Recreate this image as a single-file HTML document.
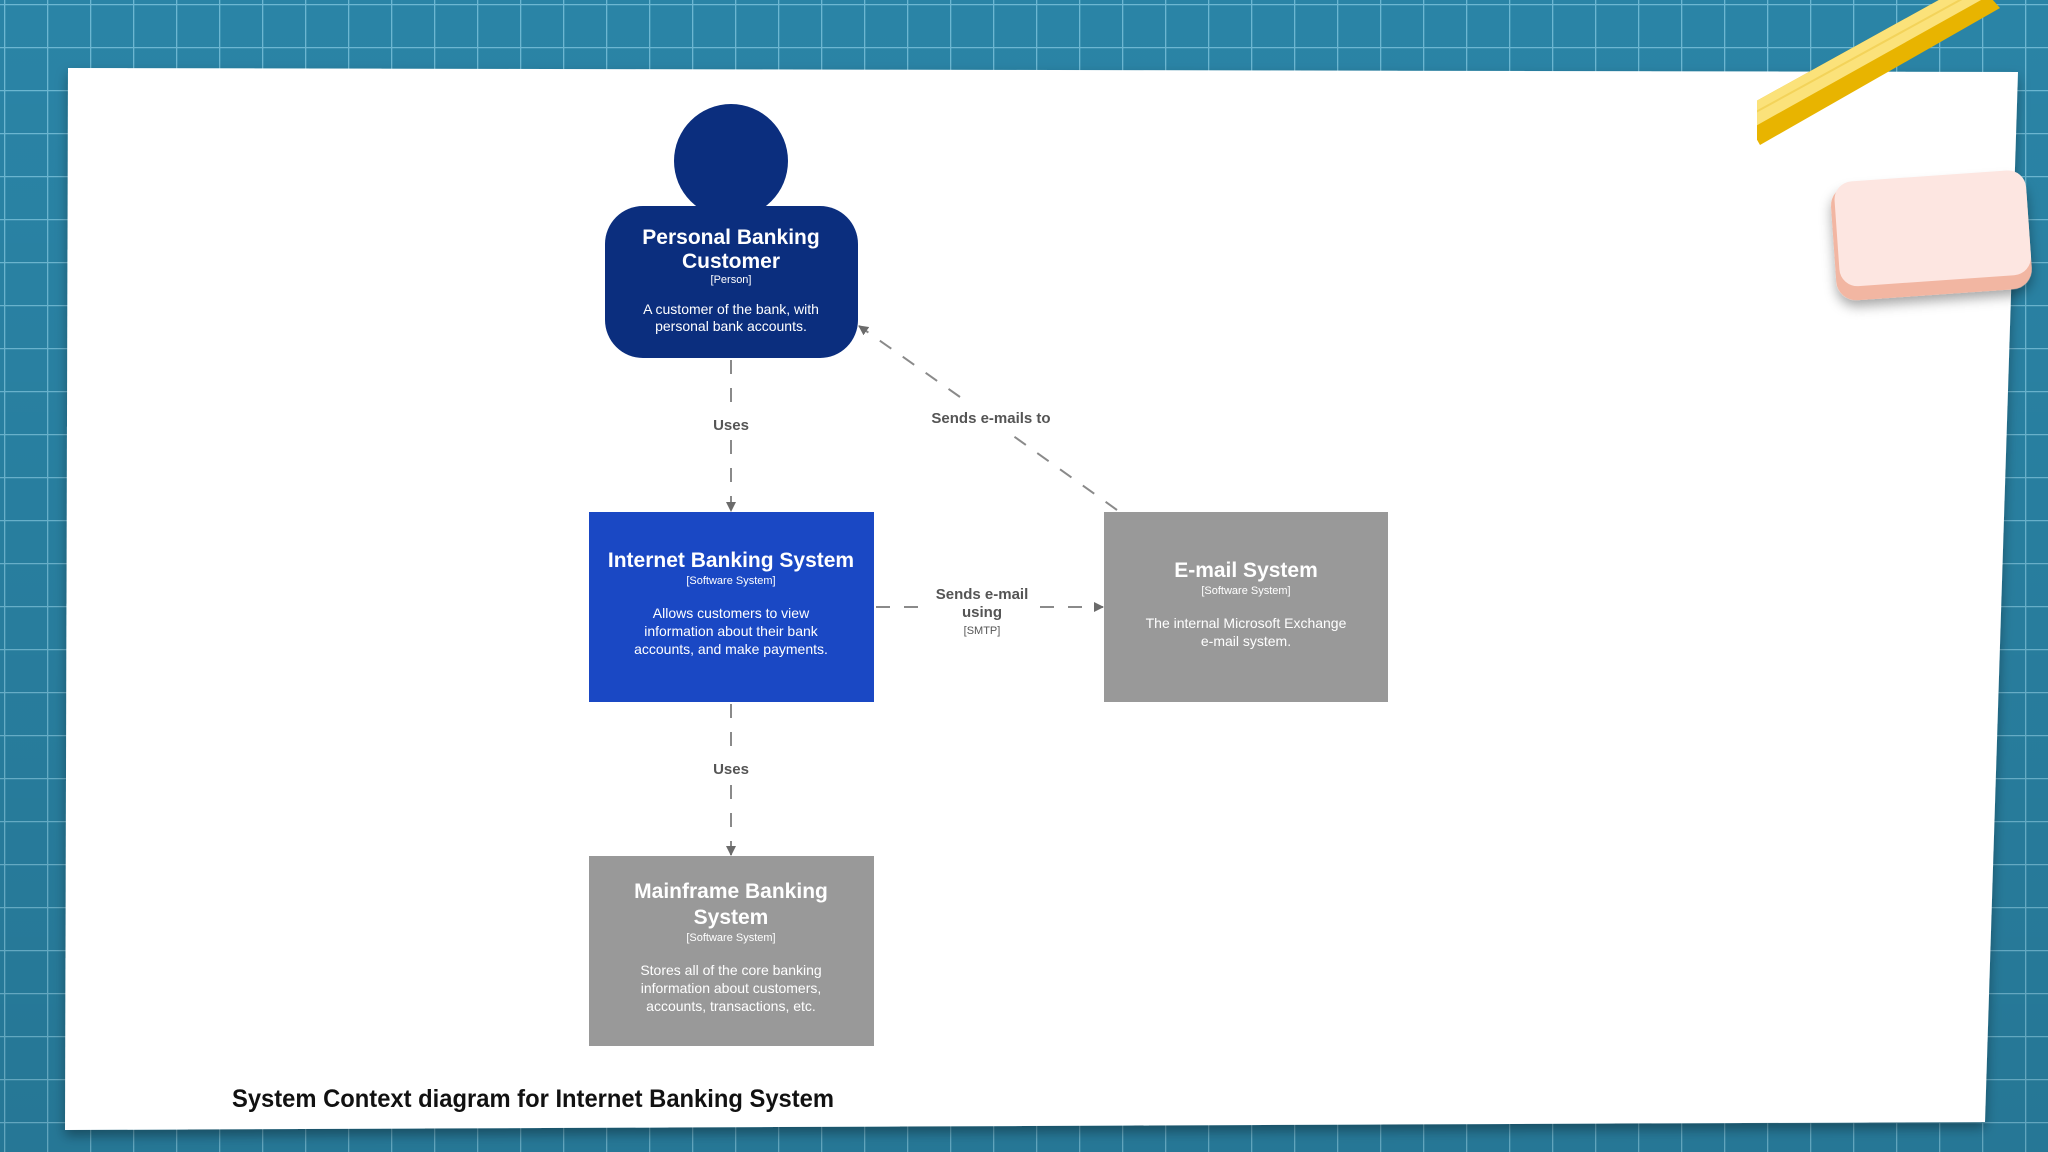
<!DOCTYPE html>
<html><head><meta charset="utf-8"><style>
html,body{margin:0;padding:0;width:2048px;height:1152px;overflow:hidden;background:#2a86a8}
svg{display:block}
text{font-family:"Liberation Sans",sans-serif}
</style></head><body>
<svg width="2048" height="1152" viewBox="0 0 2048 1152" xmlns="http://www.w3.org/2000/svg">
<defs>
<pattern id="g" width="43" height="43" patternUnits="userSpaceOnUse" x="4" y="4">
<rect width="43" height="43" fill="#2a84a6"/>
<path d="M0 0.5H43M0.5 0V43" stroke="#8fd3ea" stroke-width="1.6" opacity="0.65"/>
</pattern>
<linearGradient id="bg" x1="0" y1="0" x2="0" y2="1"><stop offset="0" stop-color="#000" stop-opacity="0"/><stop offset="1" stop-color="#000" stop-opacity="0.1"/></linearGradient>
<marker id="ah" markerWidth="10" markerHeight="10" refX="9" refY="5" orient="auto" markerUnits="userSpaceOnUse"><path d="M0,0 L10,5 L0,10 Z" fill="#6b6b6b"/></marker>
<filter id="sh" x="-10%" y="-10%" width="120%" height="130%"><feDropShadow dx="0" dy="6" stdDeviation="6" flood-opacity="0.35"/></filter>
</defs>
<rect width="2048" height="1152" fill="url(#g)"/>
<rect width="2048" height="1152" fill="url(#bg)"/>
<polygon points="68,68 2018,72 1985,1122 65,1130" fill="#fff" filter="url(#sh)"/>
<g>
<clipPath id="pc"><polygon points="1757,0 2048,0 2048,160 1757,160"/></clipPath>
<g clip-path="url(#pc)">
<polygon points="1740,110 1975,-20 2000,8 1760,145" fill="#e8b400"/>
<polygon points="1740,110 1975,-20 1990,-5 1752,128" fill="#fbe27a"/>
<line x1="1745" y1="118" x2="1982" y2="-12" stroke="#f3d35a" stroke-width="2"/>
</g>
</g>
<g transform="rotate(-4 1930 232)">
<rect x="1833" y="180" width="196" height="115" rx="20" fill="#f2b6a2" filter="url(#sh)"/>
<rect x="1837" y="176" width="192" height="105" rx="18" fill="#fde6e1"/>
</g>
<circle cx="731" cy="161" r="57" fill="#0b2e7e"/>
<rect x="605" y="206" width="253" height="152" rx="38" fill="#0b2e7e"/>
<g fill="#fff" text-anchor="middle">
<text x="731" y="244" font-size="21" font-weight="bold">Personal Banking</text>
<text x="731" y="268" font-size="21" font-weight="bold">Customer</text>
<text x="731" y="283" font-size="11">[Person]</text>
<text x="731" y="314" font-size="14">A customer of the bank, with</text>
<text x="731" y="331" font-size="14">personal bank accounts.</text>
</g>
<rect x="589" y="512" width="285" height="190" fill="#1a48c4"/>
<g fill="#fff" text-anchor="middle">
<text x="731" y="567" font-size="21" font-weight="bold">Internet Banking System</text>
<text x="731" y="584" font-size="11">[Software System]</text>
<text x="731" y="618" font-size="14">Allows customers to view</text>
<text x="731" y="636" font-size="14">information about their bank</text>
<text x="731" y="654" font-size="14">accounts, and make payments.</text>
</g>
<rect x="1104" y="512" width="284" height="190" fill="#999999"/>
<g fill="#fff" text-anchor="middle">
<text x="1246" y="577" font-size="21" font-weight="bold">E-mail System</text>
<text x="1246" y="594" font-size="11">[Software System]</text>
<text x="1246" y="628" font-size="14">The internal Microsoft Exchange</text>
<text x="1246" y="646" font-size="14">e-mail system.</text>
</g>
<rect x="589" y="856" width="285" height="190" fill="#999999"/>
<g fill="#fff" text-anchor="middle">
<text x="731" y="898" font-size="21" font-weight="bold">Mainframe Banking</text>
<text x="731" y="924" font-size="21" font-weight="bold">System</text>
<text x="731" y="941" font-size="11">[Software System]</text>
<text x="731" y="975" font-size="14">Stores all of the core banking</text>
<text x="731" y="993" font-size="14">information about customers,</text>
<text x="731" y="1011" font-size="14">accounts, transactions, etc.</text>
</g>
<g stroke="#8a8a8a" stroke-width="2" stroke-dasharray="14,14" fill="none">
<line x1="731" y1="360" x2="731" y2="410"/>
<line x1="731" y1="440" x2="731" y2="511" marker-end="url(#ah)"/>
<line x1="731" y1="704" x2="731" y2="755"/>
<line x1="731" y1="785" x2="731" y2="855" marker-end="url(#ah)"/>
<line x1="876" y1="607" x2="925" y2="607"/>
<line x1="1040" y1="607" x2="1103" y2="607" marker-end="url(#ah)"/>
<line x1="1117" y1="510" x2="1012" y2="435"/>
<line x1="960" y1="397" x2="859" y2="326" marker-end="url(#ah)"/>
</g>
<g fill="#555" text-anchor="middle" font-weight="bold" font-size="15">
<text x="731" y="430">Uses</text>
<text x="731" y="774">Uses</text>
<text x="991" y="423">Sends e-mails to</text>
<text x="982" y="599">Sends e-mail</text>
<text x="982" y="617">using</text>
<text x="982" y="634" font-size="11" font-weight="normal">[SMTP]</text>
</g>
<text x="232" y="1107" font-size="25" font-weight="bold" fill="#111" textLength="602" lengthAdjust="spacingAndGlyphs">System Context diagram for Internet Banking System</text>
</svg>
</body></html>
